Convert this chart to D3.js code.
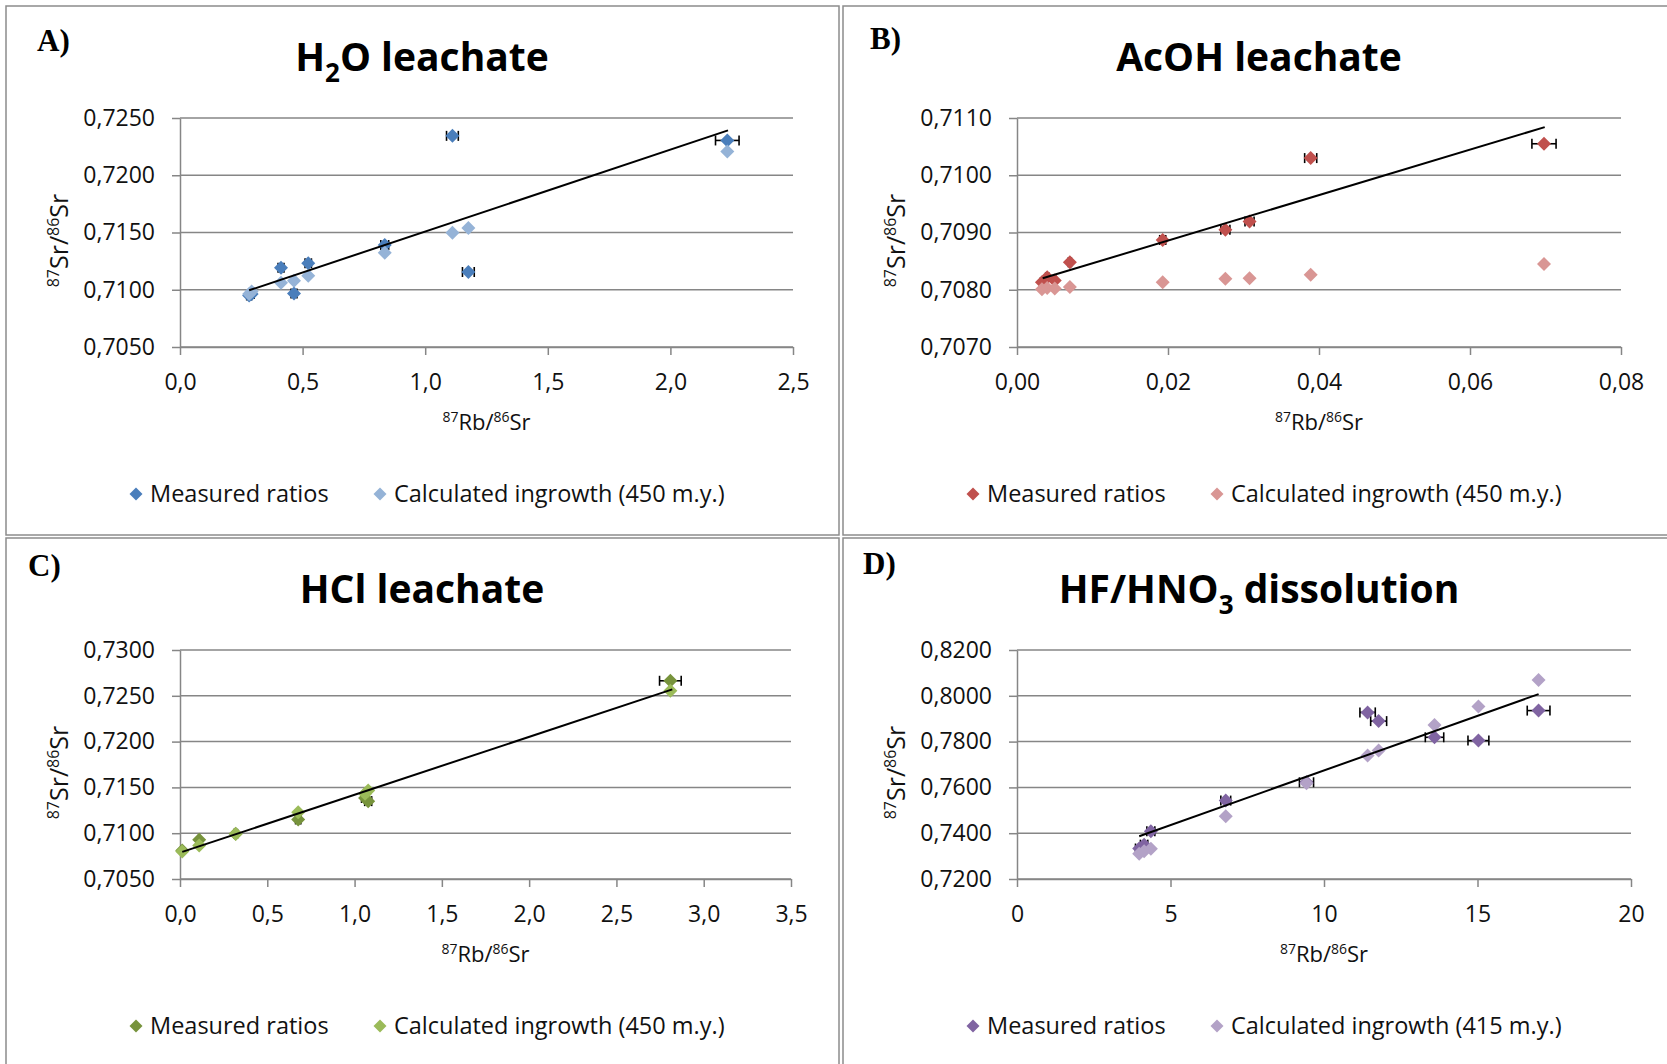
<!DOCTYPE html>
<html>
<head>
<meta charset="utf-8">
<script src="https://cdn.jsdelivr.net/npm/d3@7"></script>
<style>
  body { margin: 0; background: #fff; }
  svg { display: block; font-family: "Open Sans", sans-serif; }
</style>
</head>
<body>
<svg id="chart" width="1667" height="1064"></svg>
<script>
// ---- data ----
// A) H2O leachate
const h2oRb        = [0.282, 0.292, 0.412, 0.465, 0.523, 0.835, 1.111, 1.176, 2.232];
const h2oSrMeas    = [0.70950, 0.70962, 0.71192, 0.70968, 0.71231, 0.71391, 0.72344, 0.71155, 0.72304];
const h2oSrCalc    = [0.70962, 0.70985, 0.71061, 0.71079, 0.71122, 0.71323, 0.71498, 0.71539, 0.72208];
const h2oRbErr     = [0.010, 0.010, 0.012, 0.012, 0.013, 0.016, 0.024, 0.024, 0.048];
const h2oTrend     = [[0.282, 0.70995], [2.235, 0.72392]];
const h2oXTicks    = [0, 0.5, 1.0, 1.5, 2.0, 2.5];
const h2oYTicks    = [0.7050, 0.7100, 0.7150, 0.7200, 0.7250];

// B) AcOH leachate
const acohRb       = [0.0033, 0.0040, 0.0050, 0.0070, 0.0193, 0.0276, 0.0308, 0.0389, 0.0698];
const acohSrMeas   = [0.70813, 0.70822, 0.70816, 0.70848, 0.70887, 0.70905, 0.70919, 0.71030, 0.71055];
const acohSrCalc   = [0.70801, 0.70803, 0.70802, 0.70805, 0.70813, 0.70819, 0.70820, 0.70826, 0.70845];
const acohRbErr    = [0.0002, 0.0002, 0.0002, 0.0002, 0.0004, 0.0006, 0.0006, 0.0008, 0.0016];
const acohTrend    = [[0.0034, 0.70820], [0.0699, 0.71084]];
const acohXTicks   = [0, 0.02, 0.04, 0.06, 0.08];
const acohYTicks   = [0.7070, 0.7080, 0.7090, 0.7100, 0.7110];

// C) HCl leachate
const hclRb        = [0.013, 0.110, 0.319, 0.677, 1.060, 1.078, 2.809];
const hclSrMeas    = [0.70810, 0.70928, 0.70993, 0.71150, 0.71385, 0.71350, 0.72664];
const hclSrCalc    = [0.70800, 0.70866, 0.70990, 0.71230, 0.71430, 0.71467, 0.72555];
const hclRbErr     = [0.005, 0.006, 0.010, 0.015, 0.020, 0.020, 0.062];
const hclTrend     = [[0.013, 0.70796], [2.82, 0.72570]];
const hclXTicks    = [0, 0.5, 1.0, 1.5, 2.0, 2.5, 3.0, 3.5];
const hclYTicks    = [0.7050, 0.7100, 0.7150, 0.7200, 0.7250, 0.7300];

// D) HF/HNO3 dissolution
const hfRb         = [3.98, 4.14, 4.36, 6.80, 9.43, 11.42, 11.78, 13.60, 15.03, 16.99];
const hfSrMeas     = [0.73332, 0.73500, 0.74087, 0.75424, 0.76224, 0.79275, 0.78895, 0.78188, 0.78044, 0.79354];
const hfSrCalc     = [0.73100, 0.73214, 0.73319, 0.74743, 0.76183, 0.77389, 0.77607, 0.78729, 0.79528, 0.80686];
const hfRbErr      = [0.12, 0.12, 0.13, 0.16, 0.23, 0.25, 0.26, 0.30, 0.34, 0.37];
const hfTrend      = [[3.98, 0.73869], [16.99, 0.80074]];
const hfXTicks     = [0, 5, 10, 15, 20];
const hfYTicks     = [0.7200, 0.7400, 0.7600, 0.7800, 0.8000, 0.8200];

const seriesNames  = ["Measured ratios", "Calculated ingrowth"];

// ---- layout ----
const locale = d3.formatLocale({ decimal: ",", thousands: ".", grouping: [3], currency: ["", ""] });
const GRID = "#868686";

const panels = [
  { letter: "A)", title: [["H"], ["2", true], ["O leachate"]],
    rb: h2oRb, meas: h2oSrMeas, calc: h2oSrCalc, err: h2oRbErr, trend: h2oTrend,
    xTicks: h2oXTicks, yTicks: h2oYTicks, xFmt: ".1f", age: "450",
    colors: ["#4a7ebb", "#95b3d7"],
    ox: 6, oy: 6, w: 833, h: 529, right: 793, letterAt: [31, 45] },
  { letter: "B)", title: [["AcOH leachate"]],
    rb: acohRb, meas: acohSrMeas, calc: acohSrCalc, err: acohRbErr, trend: acohTrend,
    xTicks: acohXTicks, yTicks: acohYTicks, xFmt: ".2f", age: "450",
    colors: ["#c0504d", "#d99694"],
    ox: 843, oy: 6, w: 840, h: 529, right: 1621, letterAt: [27, 43] },
  { letter: "C)", title: [["HCl leachate"]],
    rb: hclRb, meas: hclSrMeas, calc: hclSrCalc, err: hclRbErr, trend: hclTrend,
    xTicks: hclXTicks, yTicks: hclYTicks, xFmt: ".1f", age: "450",
    colors: ["#77933c", "#9bbb59"],
    ox: 6, oy: 538, w: 833, h: 540, right: 791, letterAt: [22, 38] },
  { letter: "D)", title: [["HF/HNO"], ["3", true], [" dissolution"]],
    rb: hfRb, meas: hfSrMeas, calc: hfSrCalc, err: hfRbErr, trend: hfTrend,
    xTicks: hfXTicks, yTicks: hfYTicks, xFmt: "d", age: "415",
    colors: ["#8064a2", "#b3a2c7"],
    ox: 843, oy: 538, w: 840, h: 540, right: 1631, letterAt: [20, 36] }
];

const svg = d3.select("#chart");

function diamond(r) {
  return `M0,${-r}L${r},0L0,${r}L${-r},0Z`;
}

// text with sup/sub tspans
function richText(sel, parts, size, shiftSize, shift) {
  let prevShift = 0;
  parts.forEach(([t, small]) => {
    const dy = (small ? shift : 0) - prevShift;
    sel.append("tspan")
      .attr("dy", dy)
      .attr("font-size", small ? shiftSize : size)
      .text(t);
    prevShift = small ? shift : 0;
  });
}

function drawPanel(p) {
  const g = svg.append("g");
  const { ox, oy } = p;

  g.append("rect")
    .attr("x", ox).attr("y", oy)
    .attr("width", p.w).attr("height", p.h)
    .attr("fill", "none").attr("stroke", "#8c8c8c").attr("stroke-width", 1.5);

  const x = d3.scaleLinear().domain(d3.extent(p.xTicks)).range([ox + 174, p.right]);
  const y = d3.scaleLinear().domain(d3.extent(p.yTicks)).range([oy + 341, oy + 112]);
  const [x0, x1] = x.range();

  // horizontal gridlines
  g.append("g").selectAll("line").data(p.yTicks).join("line")
    .attr("x1", x0).attr("x2", x1)
    .attr("y1", d => y(d)).attr("y2", d => y(d))
    .attr("stroke", GRID).attr("stroke-width", 1.5);

  const yAxis = g.append("g")
    .attr("transform", `translate(${x0},0)`)
    .call(d3.axisLeft(y).tickValues(p.yTicks).tickFormat(locale.format(".4f"))
      .tickSize(8).tickSizeOuter(0).tickPadding(17));
  const xAxis = g.append("g")
    .attr("transform", `translate(0,${y.range()[0]})`)
    .call(d3.axisBottom(x).tickValues(p.xTicks).tickFormat(locale.format(p.xFmt))
      .tickSize(8).tickSizeOuter(0).tickPadding(19));
  [yAxis, xAxis].forEach(a => {
    a.selectAll("path.domain").attr("stroke", GRID).attr("stroke-width", 1.5);
    a.selectAll(".tick line").attr("stroke", GRID).attr("stroke-width", 1.5);
    a.selectAll(".tick text").attr("fill", "#111").attr("font-size", 23)
      .attr("font-family", "'Open Sans', sans-serif");
  });

  // titles
  const title = g.append("text")
    .attr("x", ox + 416).attr("y", oy + 65)
    .attr("text-anchor", "middle").attr("font-weight", 700).attr("fill", "#000");
  richText(title, p.title, 39, 26, 11);

  g.append("text")
    .attr("x", ox + p.letterAt[0]).attr("y", oy + p.letterAt[1])
    .attr("font-family", "'Liberation Serif', serif").attr("font-weight", 700)
    .attr("font-size", 31).text(p.letter);

  const xt = g.append("text")
    .attr("x", (x0 + x1) / 2).attr("y", oy + 424)
    .attr("text-anchor", "middle").attr("fill", "#111");
  richText(xt, [["87", true], ["Rb/"], ["86", true], ["Sr"]], 22, 14, -8);

  const yc = (y.range()[0] + y.range()[1]) / 2 + 8;
  const yt = g.append("text")
    .attr("transform", `translate(${ox + 62},${yc}) rotate(-90)`)
    .attr("text-anchor", "middle").attr("fill", "#111");
  richText(yt, [["87", true], ["Sr/"], ["86", true], ["Sr"]], 25, 16, -9);

  const pts = p.rb.map((r, i) => ({ x: r, m: p.meas[i], c: p.calc[i], e: p.err[i] }));

  // error bars on measured ratios
  const eb = g.append("g").attr("stroke", "#000").attr("stroke-width", 1.6);
  eb.selectAll("line.bar").data(pts).join("line").attr("class", "bar")
    .attr("x1", d => x(d.x - d.e)).attr("x2", d => x(d.x + d.e))
    .attr("y1", d => y(d.m)).attr("y2", d => y(d.m));
  eb.selectAll("line.capl").data(pts).join("line").attr("class", "capl")
    .attr("x1", d => x(d.x - d.e)).attr("x2", d => x(d.x - d.e))
    .attr("y1", d => y(d.m) - 5).attr("y2", d => y(d.m) + 5);
  eb.selectAll("line.capr").data(pts).join("line").attr("class", "capr")
    .attr("x1", d => x(d.x + d.e)).attr("x2", d => x(d.x + d.e))
    .attr("y1", d => y(d.m) - 5).attr("y2", d => y(d.m) + 5);

  g.append("g").selectAll("path").data(pts).join("path")
    .attr("d", diamond(7))
    .attr("transform", d => `translate(${x(d.x)},${y(d.m)})`)
    .attr("fill", p.colors[0]);
  g.append("g").selectAll("path").data(pts).join("path")
    .attr("d", diamond(7))
    .attr("transform", d => `translate(${x(d.x)},${y(d.c)})`)
    .attr("fill", p.colors[1]);

  g.append("path")
    .datum(p.trend)
    .attr("d", d3.line().x(d => x(d[0])).y(d => y(d[1])))
    .attr("stroke", "#000").attr("stroke-width", 2).attr("fill", "none");

  // legend
  const labels = [seriesNames[0], `${seriesNames[1]} (${p.age} m.y.)`];
  const lx = [130, 374];
  labels.forEach((t, i) => {
    g.append("path").attr("d", diamond(6.5))
      .attr("transform", `translate(${ox + lx[i]},${oy + 488})`)
      .attr("fill", p.colors[i]);
    g.append("text").attr("x", ox + lx[i] + 14).attr("y", oy + 496)
      .attr("font-size", 23.5).attr("fill", "#111").text(t);
  });
}

panels.forEach(drawPanel);
</script>
</body>
</html>
